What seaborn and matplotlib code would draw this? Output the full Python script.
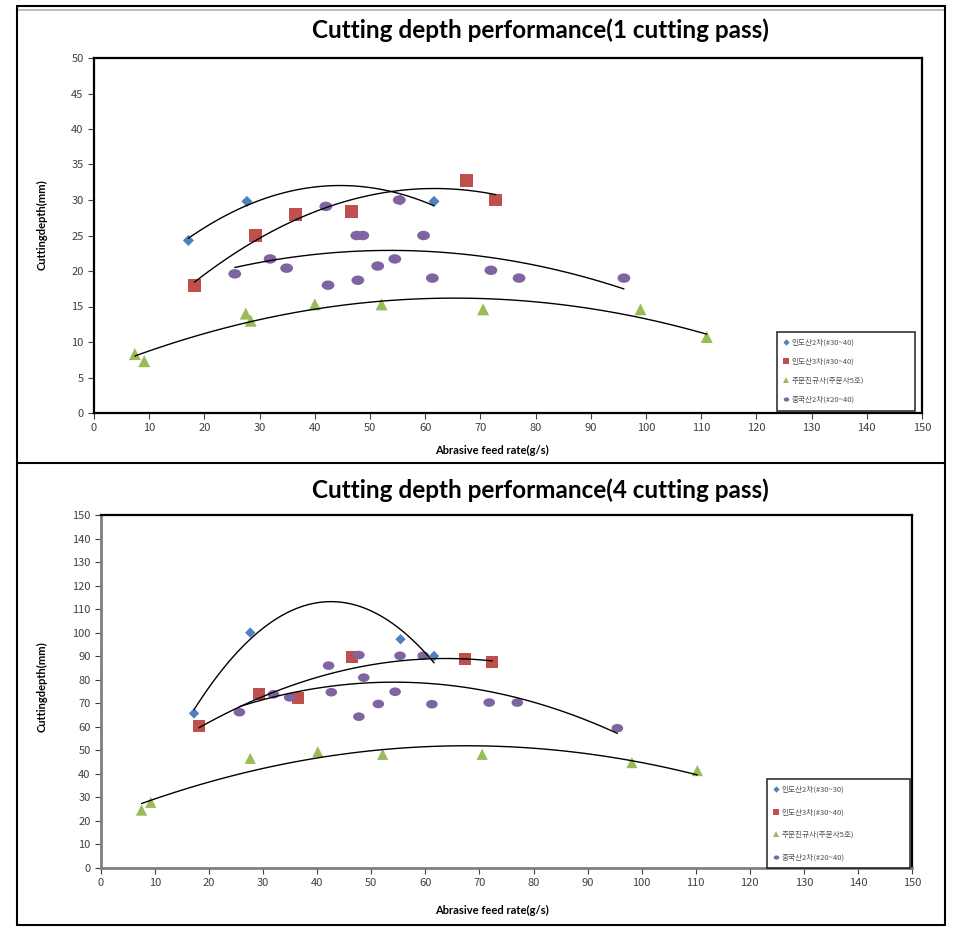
import numpy as np
import pandas as pd
import matplotlib
matplotlib.use("Agg")
import matplotlib.pyplot as plt
import seaborn as sns
from matplotlib.lines import Line2D
from matplotlib.path import Path
from matplotlib.transforms import Affine2D
from matplotlib.markers import MarkerStyle

# ---------------- data ----------------
series_names_top = ["인도산2차(#30~40)", "인도산3차(#30~40)", "주문진규사(주문사5호)", "중국산2차(#20~40)"]
series_names_bot = ["인도산2차(#30~30)", "인도산3차(#30~40)", "주문진규사(주문사5호)", "중국산2차(#20~40)"]

# 1 cutting pass
p1_blue_x = [17.1, 27.7, 55.5, 61.6]
p1_blue_y = [24.3, 29.8, 30.0, 29.8]
p1_red_x = [18.2, 29.3, 36.5, 46.6, 67.5, 72.8]
p1_red_y = [18.0, 25.0, 28.0, 28.4, 32.7, 30.0]
p1_green_x = [7.4, 9.1, 27.5, 28.4, 40.0, 52.1, 70.5, 99.0, 111.0]
p1_green_y = [8.3, 7.3, 14.0, 13.0, 15.3, 15.3, 14.6, 14.6, 10.7]
p1_purple_x = [25.5, 31.9, 34.9, 42.0, 42.4, 47.6, 48.7, 47.8, 51.4, 54.5, 55.3, 59.7, 61.3, 71.9, 77.0, 96.0]
p1_purple_y = [19.6, 21.7, 20.4, 29.1, 18.0, 25.0, 25.0, 18.7, 20.7, 21.7, 30.0, 25.0, 19.0, 20.1, 19.0, 19.0]

# 4 cutting pass
p4_blue_x = [17.2, 27.6, 55.4, 61.6]
p4_blue_y = [65.7, 100.0, 97.2, 90.1]
p4_red_x = [18.1, 29.3, 36.5, 46.4, 67.3, 72.4]
p4_red_y = [60.3, 73.8, 72.1, 89.5, 88.8, 87.4]
p4_green_x = [7.5, 9.2, 27.6, 40.1, 52.1, 70.5, 98.2, 110.3]
p4_green_y = [24.6, 27.9, 46.6, 49.4, 48.3, 48.3, 44.8, 41.4]
p4_purple_x = [25.6, 31.9, 34.9, 42.1, 42.6, 47.7, 47.7, 48.6, 51.3, 54.4, 55.3, 59.6, 61.2, 71.8, 77.0, 95.5]
p4_purple_y = [66.2, 73.8, 72.5, 86.0, 74.7, 90.5, 64.3, 80.9, 69.7, 74.9, 90.2, 90.2, 69.6, 70.3, 70.3, 59.4]

x_ticks = list(range(0, 151, 10))
y_ticks_top = list(range(0, 51, 5))
y_ticks_bot = list(range(0, 151, 10))

title_top = "Cutting depth performance(1 cutting pass)"
title_bot = "Cutting depth performance(4 cutting pass)"
xlabel = "Abrasive feed rate(g/s)"
ylabel = "Cuttingdepth(mm)"

# ---------------- style ----------------
sns.set_theme(style="white")
plt.rcParams['font.family'] = ['Noto Sans CJK KR', 'DejaVu Sans']

colors = ["#4F81BD", "#C0504D", "#9BBB59", "#8064A2"]
ellipse = Path(Affine2D().scale(1.35, 1.0).transform(Path.unit_circle().vertices), Path.unit_circle().codes)
markers = ["D", "s", "^", MarkerStyle(ellipse)]

W, H = 976, 932
fig = plt.figure(figsize=(W / 100, H / 100), dpi=100)


def fx(px):
    return px / W


def fy(py):
    return 1 - py / H


def panel(ax, data, yticks, ymax, names, leg_box, sizes):
    for i, (xs, ys) in enumerate(data):
        df = pd.DataFrame({"x": xs, "y": ys})
        sns.regplot(data=df, x="x", y="y", order=2, ci=None, truncate=True,
                    scatter=False, ax=ax, line_kws=dict(color="black", lw=1.0, zorder=3))
    handles = []
    for i, (xs, ys) in enumerate(data):
        df = pd.DataFrame({"x": xs, "y": ys})
        sns.scatterplot(data=df, x="x", y="y", ax=ax, marker=markers[i], s=sizes[i],
                        color=colors[i], edgecolor="none", linewidth=0, zorder=2 + i * 0.1)
        handles.append(Line2D([], [], ls="none", marker=markers[i], color=colors[i],
                              markersize=4 if i != 0 else 3.2, markeredgewidth=0))
    ax.set_xlim(0, 150)
    ax.set_ylim(0, ymax)
    ax.set_xticks(x_ticks)
    ax.set_yticks(yticks)
    ax.set_xlabel("")
    ax.set_ylabel("")
    ax.tick_params(axis="both", which="both", labelsize=8, colors="#404040",
                   length=4, width=0.8, direction="out", bottom=True, left=True)
    for lab in ax.get_xticklabels() + ax.get_yticklabels():
        lab.set_color("#404040")
    for s in ax.spines.values():
        s.set_visible(True)
        s.set_color("black")
        s.set_linewidth(1.6)
    x0, y0, w, h = leg_box
    leg = ax.legend(handles, names, loc="upper left",
                    bbox_to_anchor=(fx(x0), fy(y0), fx(w), 0.0001), bbox_transform=fig.transFigure,
                    mode="expand", frameon=True, fancybox=False, edgecolor="black",
                    prop=dict(family=['Noto Sans CJK KR', 'DejaVu Sans'], size=5.5),
                    handlelength=0.6, handletextpad=0.4, labelspacing=h, borderpad=0.9,
                    borderaxespad=0)
    leg.get_frame().set_linewidth(1.2)
    for t in leg.get_texts():
        t.set_color("#505050")
    ax.set_facecolor("white")


# top axes
ax1 = fig.add_axes([fx(94), fy(413), fx(922 - 94), (413 - 58) / H])
panel(ax1, [(p1_blue_x, p1_blue_y), (p1_red_x, p1_red_y), (p1_green_x, p1_green_y), (p1_purple_x, p1_purple_y)],
      y_ticks_top, 50, series_names_top, (777, 332, 138, 1.45), [32, 85, 75, 85])

# bottom axes
ax2 = fig.add_axes([fx(101), fy(868), fx(912 - 101), (868 - 515) / H])
panel(ax2, [(p4_blue_x, p4_blue_y), (p4_red_x, p4_red_y), (p4_green_x, p4_green_y), (p4_purple_x, p4_purple_y)],
      y_ticks_bot, 150, series_names_bot, (767, 779, 143, 1.9), [28, 75, 65, 70])
for side in ["left", "bottom"]:
    ax2.spines[side].set_color("#7f7f7f")
    ax2.spines[side].set_linewidth(2.0)

# titles and labels
title_font = dict(family=["Lato", "DejaVu Sans"], weight="bold", size=17.5, color="black")
fig.text(fx(540), fy(30), title_top, ha="center", va="center", **title_font)
fig.text(fx(540), fy(490), title_bot, ha="center", va="center", **title_font)

lab_font = dict(family=["Lato", "DejaVu Sans"], weight="bold", size=8, color="black")
fig.text(fx(492), fy(450), xlabel, ha="center", va="center", **lab_font)
fig.text(fx(492), fy(910), xlabel, ha="center", va="center", **lab_font)
fig.text(fx(42), fy(225), ylabel, ha="center", va="center", rotation=90, **lab_font)
fig.text(fx(42), fy(687), ylabel, ha="center", va="center", rotation=90, **lab_font)

# panel frames
def hline(py, x0, x1, color="black", lw=1.5):
    fig.add_artist(Line2D([fx(x0), fx(x1)], [fy(py), fy(py)], color=color, lw=lw))


def vline(px, y0, y1, color="black", lw=1.5):
    fig.add_artist(Line2D([fx(px), fx(px)], [fy(y0), fy(y1)], color=color, lw=lw))


hline(6, 17, 945)
hline(10, 17, 945, color="#b0b0b0", lw=1.2)
hline(463, 17, 945)
hline(925, 17, 945)
vline(17, 6, 925)
vline(945, 6, 925)

fig.savefig("out.png", dpi=100, facecolor="white")
